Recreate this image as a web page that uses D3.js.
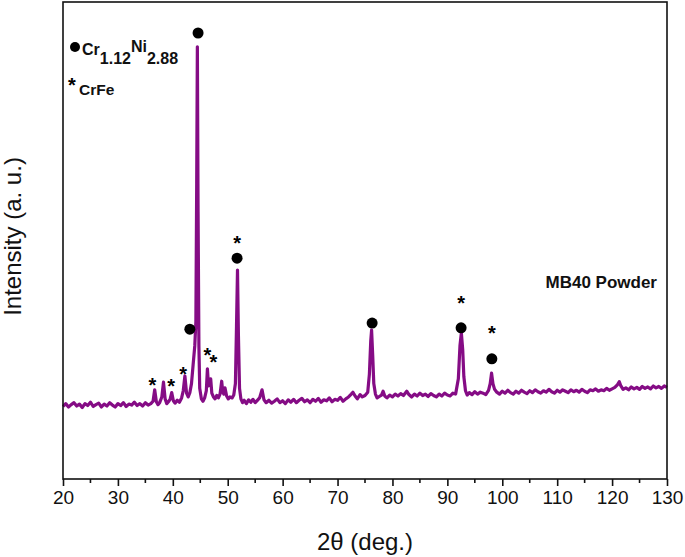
<!DOCTYPE html>
<html>
<head>
<meta charset="utf-8">
<script src="https://cdn.jsdelivr.net/npm/d3@7"></script>
<style>
  body { margin: 0; background: #fff; }
  text { font-family: "Liberation Sans", Arial, sans-serif; }
</style>
</head>
<body>
<div class="boundary"></div>
<script>
// XRD pattern, [2theta, intensity a.u.]
var pattern = [
 [20,152],[20.5,158],[21,151],[21.5,156],[22,160],[22.5,153],[23,157],[23.5,150],[24,158],[24.5,154],
 [25,161],[25.5,152],[26,156],[26.5,159],[27,151],[27.5,157],[28,153],[28.5,160],[29,155],[29.5,151],
 [30,158],[30.5,154],[31,160],[31.5,152],[32,157],[32.5,155],[33,161],[33.5,154],[34,158],[34.5,153],
 [35,160],[35.5,155],[36,158],[36.4,163],[36.7,187],[37,162],[37.3,156],[37.6,160],[38,172],[38.3,203],
 [38.6,168],[38.9,158],[39.2,162],[39.5,167],[39.8,181],[40.1,164],[40.4,159],[40.8,165],[41.2,161],[41.6,170],
 [41.9,185],[42.2,216],[42.5,180],[42.8,172],[43.1,181],[43.4,200],[43.7,240],[44,279],[44.2,330],[44.35,620],
 [44.47,906],[44.6,560],[44.75,280],[44.9,190],[45.2,168],[45.5,163],[45.8,170],[46.1,185],[46.3,231],[46.5,195],
 [46.75,198],[46.9,210],[47.1,180],[47.4,172],[47.7,168],[48,175],[48.3,170],[48.6,178],[48.9,205],[49.1,182],
 [49.3,178],[49.5,191],[49.8,174],[50.1,168],[50.4,172],[50.8,170],[51.1,176],[51.4,200],[51.6,320],[51.78,438],
 [51.95,300],[52.15,190],[52.4,168],[52.7,160],[53,165],[53.4,158],[53.8,166],[54.2,161],[54.6,167],[55,160],
 [55.4,165],[55.8,170],[56.25,187],[56.6,166],[57,160],[57.5,165],[58,159],[58.5,163],[59,168],[59.5,160],
 [60,164],[60.5,158],[61,166],[61.5,161],[62,167],[62.5,160],[63,165],[63.5,169],[64,162],[64.5,166],
 [65,160],[65.5,167],[66,163],[66.5,169],[67,161],[67.5,166],[68,164],[68.5,170],[69,162],[69.5,167],
 [70,165],[70.5,171],[71,163],[71.5,168],[72,172],[72.5,178],[72.8,182],[73.2,174],[73.6,168],[74.1,177],
 [74.5,172],[75,175],[75.5,182],[75.8,220],[76.05,290],[76.2,312],[76.4,260],[76.6,200],[76.9,178],[77.2,170],
 [77.6,173],[78,176],[78.3,184],[78.6,174],[79,170],[79.5,176],[80,172],[80.5,178],[81,174],[81.5,179],
 [82,175],[82.6,184],[83,177],[83.5,172],[84,178],[84.5,174],[85,180],[85.5,175],[86,178],[86.5,173],
 [87,179],[87.5,175],[88,172],[88.5,178],[89,174],[89.5,180],[90,176],[90.5,174],[91,180],[91.5,178],
 [92,210],[92.3,280],[92.55,306],[92.8,270],[93,215],[93.3,185],[93.6,176],[94,181],[94.5,177],[95,183],
 [95.5,178],[96,182],[96.5,180],[97,177],[97.5,186],[97.8,200],[98.05,222],[98.3,200],[98.6,188],[99,182],
 [99.5,178],[100,184],[100.5,180],[101,186],[101.5,181],[102,178],[102.5,184],[103,180],[103.5,186],[104,182],
 [104.5,179],[105,185],[105.5,181],[106,187],[106.5,183],[107,180],[107.5,185],[108,182],[108.5,188],[109,183],
 [109.5,180],[110,186],[110.5,182],[111,187],[111.5,184],[112,181],[112.5,187],[113,183],[113.5,186],[114,182],
 [114.5,188],[115,184],[115.5,181],[116,187],[116.5,185],[117,189],[117.5,184],[118,187],[118.5,185],[119,190],
 [119.5,186],[120,189],[120.5,192],[121,198],[121.3,204],[121.6,195],[122,188],[122.5,191],[123,187],[123.5,193],
 [124,189],[124.5,192],[125,188],[125.5,194],[126,190],[126.5,193],[127,189],[127.5,195],[128,191],[128.5,194],
 [129,190],[129.5,195],[130,192]
];
// phase markers [2theta, intensity where the marker sits]
var niDots = [[44.6,935],[43.1,314],[51.7,463],[76.3,327],[92.5,317],[98.1,252]];
var feStars = [[36.3,208],[39.7,205],[41.9,230],[46.3,270],[47.4,256],[51.7,505],[92.5,379],[98.1,317]];
var xTicks = [20,30,40,50,60,70,80,90,100,110,120,130];
var xMinor = [25,35,45,55,65,75,85,95,105,115,125];

var width = 685, height = 557;
var pl = 63, pr = 667, pt = 2, pb = 479;

var svg = d3.select(".boundary").append("svg")
  .attr("width", width).attr("height", height)
  .style("background", "#fff");

var x = d3.scaleLinear().domain([20,130]).range([pl, pr]);
var y = d3.scaleLinear().domain([0,1000]).range([pb, pt]);

var line = d3.line().x(function(d){ return x(d[0]); }).y(function(d){ return y(d[1]); });

svg.append("path").datum(pattern)
  .attr("d", line)
  .attr("fill", "none")
  .attr("stroke", "#850c85")
  .attr("stroke-width", 3.2)
  .attr("stroke-linejoin", "round");

// frame
svg.append("rect")
  .attr("x", pl).attr("y", pt)
  .attr("width", pr-pl).attr("height", pb-pt)
  .attr("fill", "none").attr("stroke", "#111").attr("stroke-width", 1.6);

var xAxis = svg.append("g").attr("transform", "translate(0," + pb + ")")
  .call(d3.axisBottom(x).tickValues(xTicks).tickSize(7).tickPadding(5).tickFormat(d3.format("d")));
xAxis.select(".domain").remove();
xAxis.selectAll("line").attr("stroke", "#111").attr("stroke-width", 1.6);
xAxis.selectAll("text").attr("font-size", 19).attr("fill", "#111")
  .style("font-family", "'Liberation Sans', Arial, sans-serif");

svg.append("g").selectAll("line").data(xMinor).enter().append("line")
  .attr("x1", function(d){ return x(d); }).attr("x2", function(d){ return x(d); })
  .attr("y1", pb).attr("y2", pb + 4)
  .attr("stroke", "#111").attr("stroke-width", 1.6);

svg.append("text").attr("x", (pl+pr)/2).attr("y", 550)
  .attr("text-anchor", "middle").attr("font-size", 24).attr("fill", "#111")
  .text("2θ (deg.)");

svg.append("text")
  .attr("transform", "translate(21," + ((pt+pb)/2 - 4) + ") rotate(-90)")
  .attr("text-anchor", "middle").attr("font-size", 24).attr("fill", "#111")
  .text("Intensity (a. u.)");

// markers
svg.append("g").selectAll("circle").data(niDots).enter().append("circle")
  .attr("cx", function(d){ return x(d[0]); })
  .attr("cy", function(d){ return y(d[1]); })
  .attr("r", 5.5).attr("fill", "#000");

svg.append("g").selectAll("text").data(feStars).enter().append("text")
  .attr("x", function(d){ return x(d[0]); })
  .attr("y", function(d){ return y(d[1]) + 12; })
  .attr("text-anchor", "middle").attr("font-size", 20).attr("font-weight", "bold")
  .text("*");

// legend
svg.append("circle").attr("cx", 75).attr("cy", 47).attr("r", 5).attr("fill", "#000");
var lg = svg.append("text").attr("x", 82).attr("y", 55)
  .attr("font-size", 16).attr("font-weight", "bold").attr("fill", "#111");
lg.append("tspan").text("Cr");
lg.append("tspan").attr("dy", 9).text("1.12");
lg.append("tspan").attr("dy", -12).text("Ni");
lg.append("tspan").attr("dy", 12).text("2.88");

svg.append("text").attr("x", 72).attr("y", 92)
  .attr("text-anchor", "middle").attr("font-size", 20).attr("font-weight", "bold").text("*");
svg.append("text").attr("x", 79).attr("y", 95)
  .attr("font-size", 15.5).attr("font-weight", "bold").attr("fill", "#111").text("CrFe");

svg.append("text").attr("x", 657).attr("y", 288)
  .attr("text-anchor", "end").attr("font-size", 17).attr("font-weight", "bold").attr("fill", "#111")
  .text("MB40 Powder");
</script>
</body>
</html>
